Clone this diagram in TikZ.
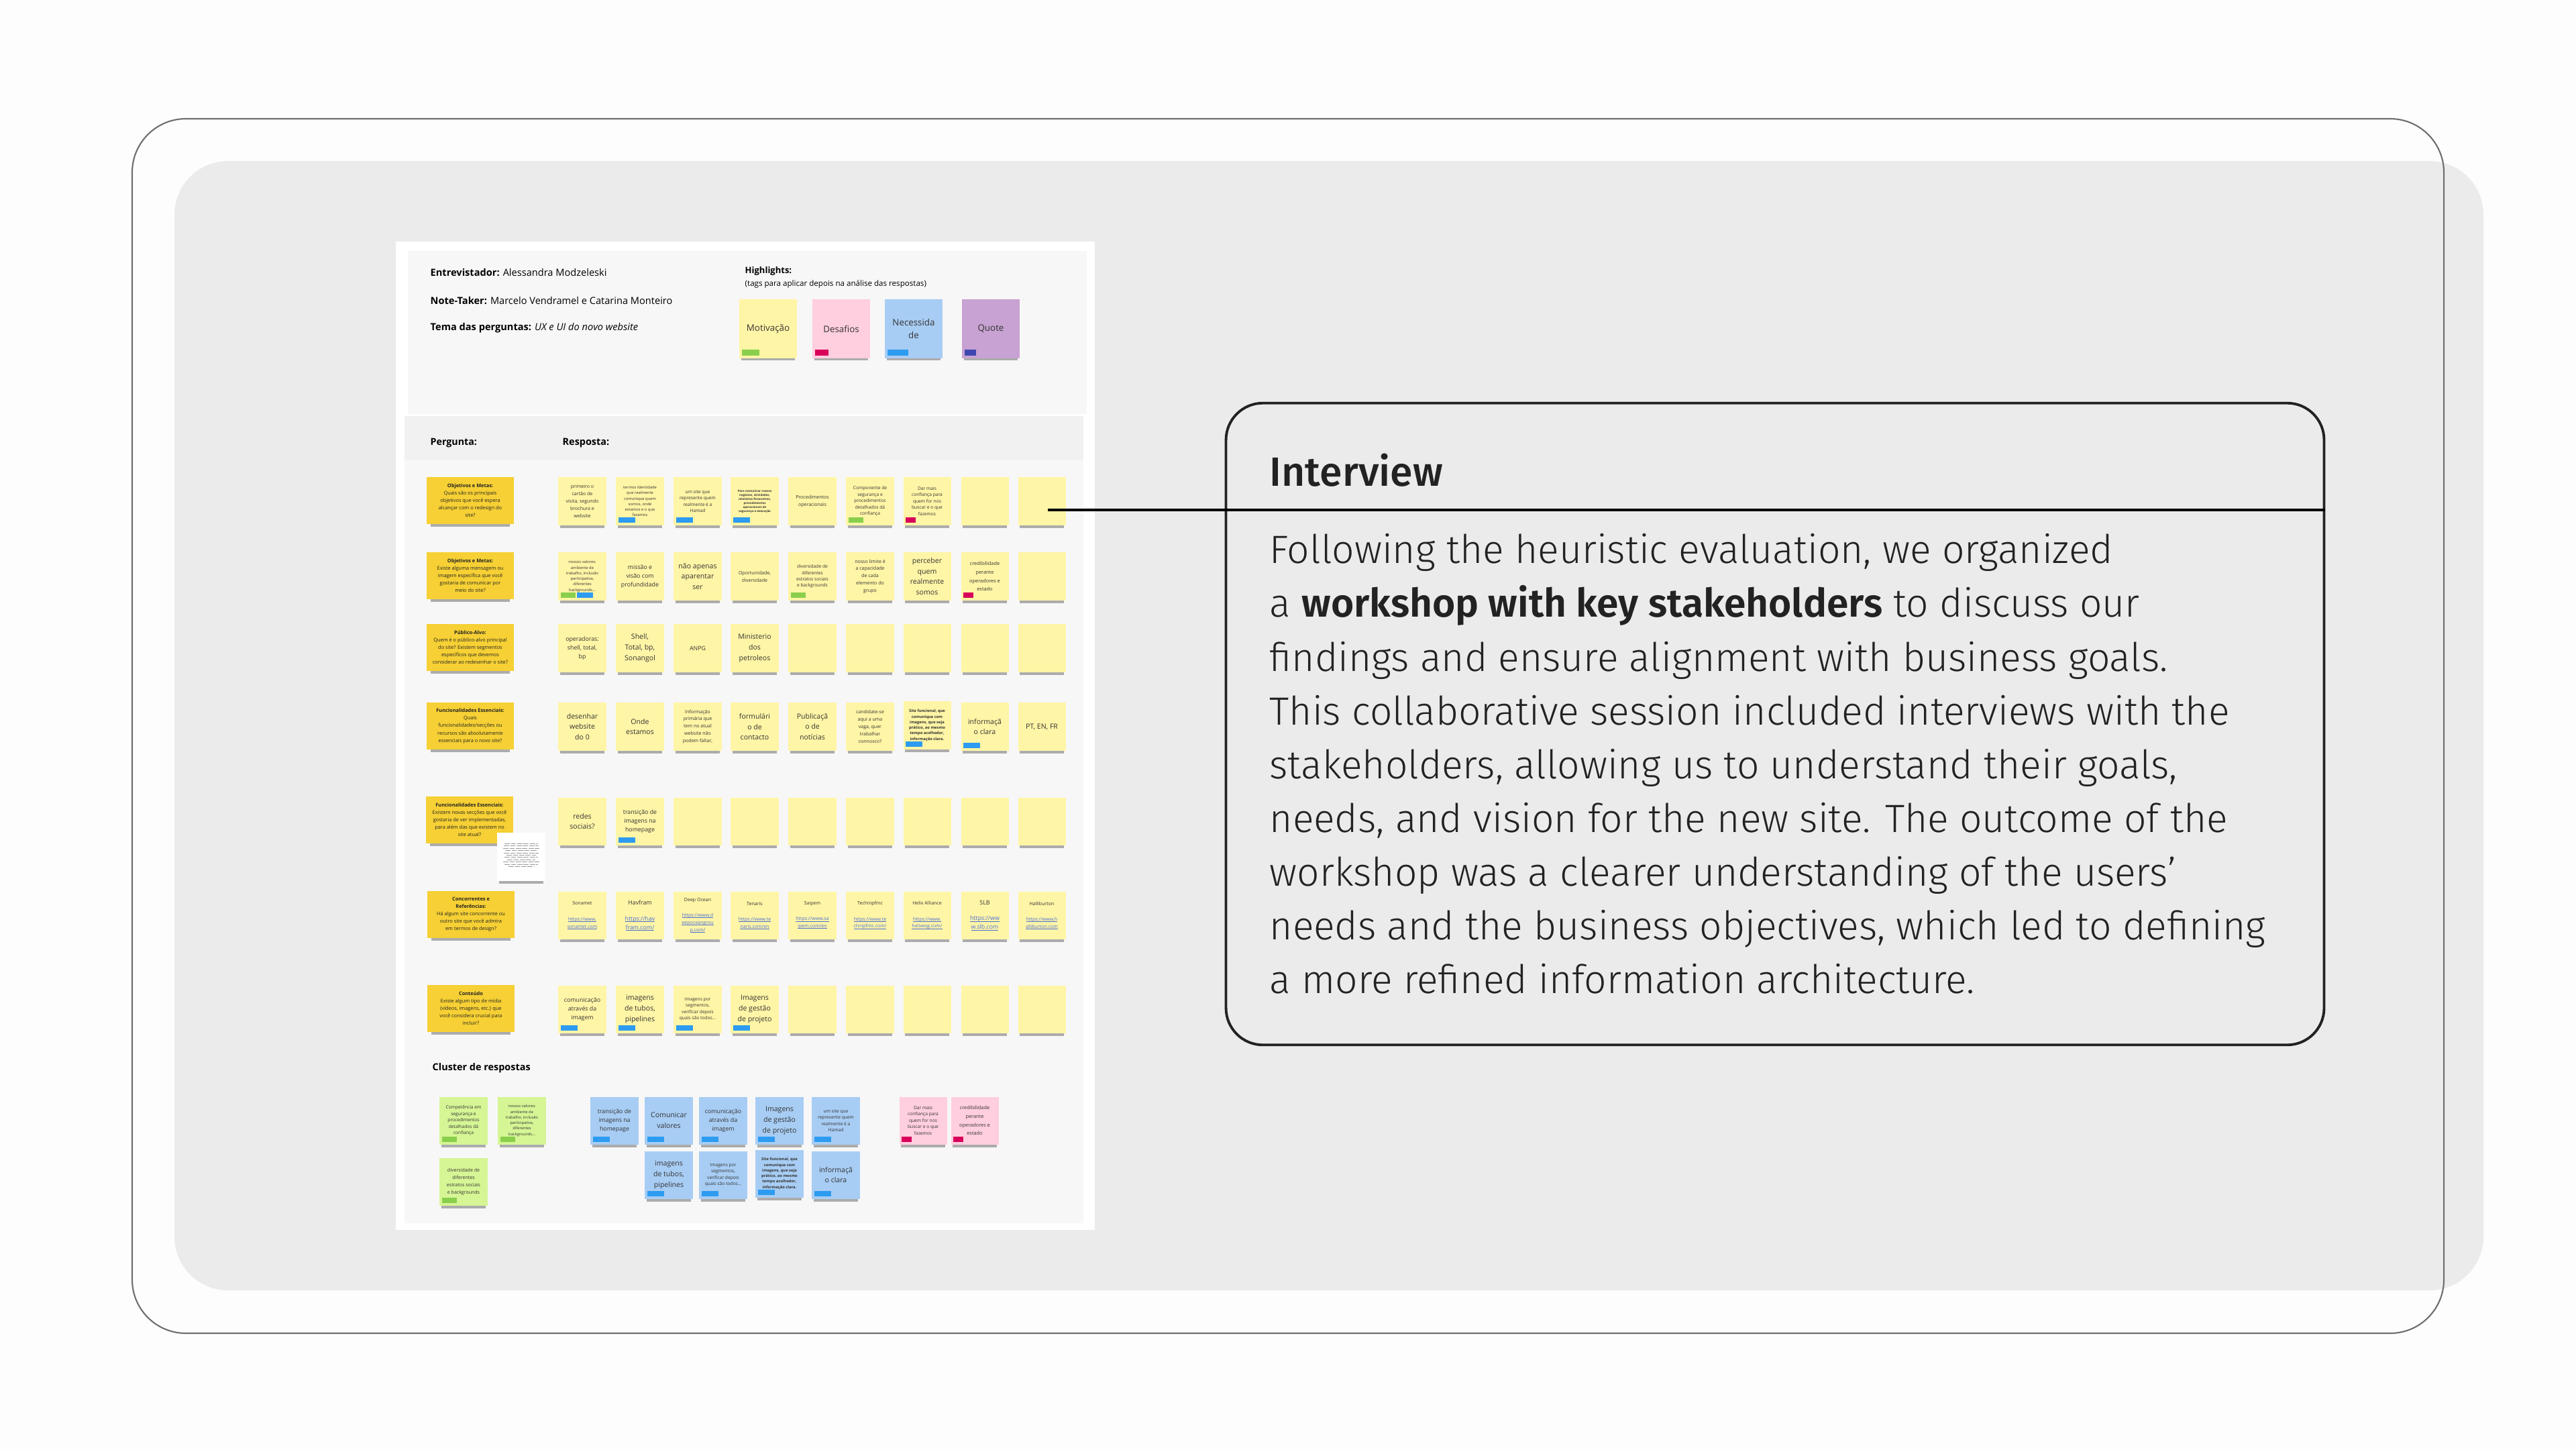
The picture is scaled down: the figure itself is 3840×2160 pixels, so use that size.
\documentclass[tikz,border=0pt]{standalone}
\usepackage{fontspec}
\setmainfont{Open Sans}
\IfFontExistsTF{Fira Sans Light}{%
  \IfFontExistsTF{Fira Sans SemiBold}{%
    \newfontfamily\calloutfont{Fira Sans Light}[BoldFont={Fira Sans SemiBold}]}{%
    \newfontfamily\calloutfont{Fira Sans Light}[BoldFont={Fira Sans}]}}{%
  \newfontfamily\calloutfont{Fira Sans}}
\IfFontExistsTF{Fira Sans Medium}{%
  \newfontfamily\titlefont{Fira Sans Medium}}{%
  \newfontfamily\titlefont{Fira Sans}}
\usetikzlibrary{calc,shadows}

\definecolor{pagebg}{HTML}{FDFDFD}
\definecolor{panelgray}{HTML}{EBEBEB}
\definecolor{framegray}{HTML}{6E6E6E}
\definecolor{boardbg}{HTML}{F7F7F7}
\definecolor{bandbg}{HTML}{F1F1F1}
\definecolor{qyellow}{HTML}{F6D034}
\definecolor{ayellow}{HTML}{FFF5A6}
\definecolor{cgreen}{HTML}{D6F595}
\definecolor{cblue}{HTML}{A8CDF4}
\definecolor{cpink}{HTML}{FFCEDF}
\definecolor{cpurple}{HTML}{C7A2D2}
\definecolor{taggreen}{HTML}{8ACF4C}
\definecolor{tagblue}{HTML}{2D9BF0}
\definecolor{tagpink}{HTML}{D8005A}
\definecolor{tagindigo}{HTML}{3E47B0}
\definecolor{linkblue}{HTML}{4A6FD8}
\definecolor{inkdark}{HTML}{222222}
\definecolor{stickytext}{HTML}{333333}

% sticky note font sizes
\newcommand\sza{\fontsize{1.25}{1.7}\selectfont\bfseries}
\newcommand\szb{\fontsize{1.65}{2.35}\selectfont}
\newcommand\szc{\fontsize{1.9}{2.7}\selectfont}
\newcommand\szd{\fontsize{2.0}{3.1}\selectfont}
\newcommand\sze{\fontsize{2.5}{3.7}\selectfont}
\newcommand\szf{\fontsize{3.0}{4.5}\selectfont}
\newcommand\szq{\fontsize{2.1}{3.15}\selectfont}
\newcommand\szh{\fontsize{3.8}{5.2}\selectfont}
\newcommand\szhead{\fontsize{4.15}{5}\selectfont}
\newcommand\lnk[1]{{\color{linkblue}\setbox0\hbox{#1}\rlap{\rule[-0.3pt]{\wd0}{0.12pt}}\box0}}

\tikzset{
  sticky/.style={inner sep=0pt, minimum width=0.71cm, minimum height=0.71cm, align=center, text=stickytext,
    drop shadow={shadow xshift=0pt, shadow yshift=-2.2pt, shadow scale=0.92, opacity=0.3, fill=black}},
  ans/.style={sticky, fill=ayellow, font=\szd},
  ques/.style={sticky, fill=qyellow, minimum width=1.29cm, minimum height=0.70cm, font=\szq, text=inkdark},
  grn/.style={sticky, fill=cgreen, font=\szc},
  blu/.style={sticky, fill=cblue, font=\szc},
  pnk/.style={sticky, fill=cpink, font=\szc},
  hl/.style={sticky, minimum width=0.86cm, minimum height=0.87cm, font=\szh},
  boardtxt/.style={anchor=west, inner sep=0pt, font=\szhead, text=black},
  callout/.style={draw=inkdark, line width=1.1pt, rounded corners=0.55cm, minimum width=16.36cm, minimum height=9.56cm, inner sep=0pt},
  connector/.style={draw=black, line width=1.15pt},
}

\begin{document}
\begin{tikzpicture}[x=0.01cm, y=-0.01cm]
\fill[pagebg] (0,0) rectangle (3840,2160);
\useasboundingbox (0,0) rectangle (3840,2160);

% frames
\fill[panelgray, rounded corners=0.8cm] (260,240) rectangle (3702,1923);
\draw[framegray, line width=0.6pt, rounded corners=0.8cm] (197,177) rectangle (3643,1987);

% board
\fill[white] (590,360) rectangle (1632,1833);
\fill[boardbg] (608,374) rectangle (1620,617);
\fill[boardbg] (603,620) rectangle (1615,1823);
\fill[bandbg] (603,620) rectangle (1615,685);

% header
\node[boardtxt] (interviewer) at (641,406) {\textbf{Entrevistador:} Alessandra Modzeleski};
\node[boardtxt] (notetaker) at (641,448) {\textbf{Note-Taker:} Marcelo Vendramel e Catarina Monteiro};
\node[boardtxt] (theme) at (641,489) {\textbf{Tema das perguntas:} \textit{UX e UI do novo website}};
\node[boardtxt, font=\fontsize{3.7}{4.5}\selectfont] (hltitle) at (1110,404) {\textbf{Highlights:}};
\node[boardtxt, font=\fontsize{3.3}{4}\selectfont] (hlnote) at (1110,423) {(tags para aplicar depois na análise das respostas)};

\node[hl, fill=ayellow] (hl1) at (1145,490) {Motivação};
\node[hl, fill=cpink] (hl2) at (1254,490) {Desafios};
\node[hl, fill=cblue] (hl3) at (1362,490) {Necessida\\de};
\node[hl, fill=cpurple] (hl4) at (1477,490) {Quote};
\fill[taggreen] ($(hl1.south west)+(5,-4)$) rectangle ++(26,-9);
\fill[tagpink] ($(hl2.south west)+(5,-4)$) rectangle ++(20,-9);
\fill[tagblue] ($(hl3.south west)+(5,-4)$) rectangle ++(31,-9);
\fill[tagindigo] ($(hl4.south west)+(5,-4)$) rectangle ++(17,-9);

\node[boardtxt, font=\fontsize{4.05}{5}\selectfont] (pergunta) at (641,660) {\textbf{Pergunta:}};
\node[boardtxt, font=\fontsize{4.1}{5}\selectfont] (resposta) at (838,660) {\textbf{Resposta:}};

% row 1
\node[ques] (q1) at (701,746) {\textbf{Objetivos e Metas:}\\Quais são os principais\\objetivos que você espera\\alcançar com o redesign do\\site?};
\node[ans] (r1a1) at (868,747) {primeiro o\\cartão de\\visita, segundo\\brochura e\\website};
\node[ans, font=\szb] (r1a2) at (954,747) {termos identidade\\que realmente\\comunique quem\\somos, onde\\estamos e o que\\fazemos};
\node[ans, font=\szc] (r1a3) at (1040,747) {um site que\\represente quem\\realmente é a\\Hamad};
\node[ans, font=\sza] (r1a4) at (1125,747) {Para comunicar nossos\\negócios, atividades,\\relatórios financeiros,\\procedimentos\\operacionais de\\segurança e execução};
\node[ans] (r1a5) at (1211,747) {Procedimentos\\operacionais};
\node[ans, font=\szc] (r1a6) at (1297,747) {Componente de\\segurança e\\procedimentos\\detalhados dá\\confiança};
\node[ans, font=\szc] (r1a7) at (1382,747) {Dar mais\\confiança para\\quem for nos\\buscar e o que\\fazemos};
\foreach \c/\k in {1468/8,1553/9} \node[ans] (r1a\k) at (\c,747) {};

% row 2
\node[ques] (q2) at (701,858) {\textbf{Objetivos e Metas:}\\Existe alguma mensagem ou\\imagem específica que você\\gostaria de comunicar por\\meio do site?};
\node[ans, font=\szb] (r2a1) at (868,859) {nossos valores:\\ambiente de\\trabalho, inclusão\\participativa,\\diferentes\\backgrounds...};
\node[ans, font=\sze] (r2a2) at (954,859) {missão e\\visão com\\profundidade};
\node[ans, font=\szf] (r2a3) at (1040,859) {não apenas\\aparentar\\ser};
\node[ans] (r2a4) at (1125,859) {Oportunidade,\\diversidade};
\node[ans, font=\szc] (r2a5) at (1211,859) {diversidade de\\diferentes\\estratos sociais\\e backgrounds};
\node[ans] (r2a6) at (1297,859) {nosso limite é\\a capacidade\\de cada\\elemento do\\grupo};
\node[ans, font=\szf] (r2a7) at (1382,859) {perceber\\quem\\realmente\\somos};
\node[ans, font=\fontsize{2.1}{3.6}\selectfont] (r2a8) at (1468,859) {credibilidade\\perante\\operadores e\\estado};
\node[ans] (r2a9) at (1553,859) {};

% row 3
\node[ques] (q3) at (701,965) {\textbf{Público-Alvo:}\\Quem é o público-alvo principal\\do site? Existem segmentos\\específicos que devemos\\considerar ao redesenhar o site?};
\node[ans, font=\sze] (r3a1) at (868,966) {operadoras:\\shell, total,\\bp};
\node[ans, font=\szf] (r3a2) at (954,966) {Shell,\\Total, bp,\\Sonangol};
\node[ans, font=\sze] (r3a3) at (1040,966) {ANPG};
\node[ans, font=\szf] (r3a4) at (1125,966) {Ministerio\\dos\\petroleos};
\foreach \c/\k in {1211/5,1297/6,1382/7,1468/8,1553/9} \node[ans] (r3a\k) at (\c,966) {};

% row 4
\node[ques] (q4) at (701,1082) {\textbf{Funcionalidades Essenciais:}\\Quais\\funcionalidades/secções ou\\recursos são absolutamente\\essenciais para o novo site?};
\node[ans, font=\szf] (r4a1) at (868,1083) {desenhar\\website\\do 0};
\node[ans, font=\szf] (r4a2) at (954,1083) {Onde\\estamos};
\node[ans] (r4a3) at (1040,1083) {Informação\\primária que\\tem no atual\\website não\\podem faltar,};
\node[ans, font=\szf] (r4a4) at (1125,1083) {formulári\\o de\\contacto};
\node[ans, font=\szf] (r4a5) at (1211,1083) {Publicaçã\\o de\\notícias};
\node[ans] (r4a6) at (1297,1083) {candidate-se\\aqui a uma\\vaga, quer\\trabalhar\\connosco?};
\node[ans, font=\szb\bfseries] (r4a7) at (1382,1081) {Site funcional, que\\comunique com\\imagens, que seja\\prático, ao mesmo\\tempo acolhedor,\\informação clara.};
\node[ans, font=\szf] (r4a8) at (1468,1083) {informaçã\\o clara};
\node[ans, font=\szf] (r4a9) at (1553,1083) {PT, EN, FR};

% row 5
\node[ques] (q5) at (700,1222) {\textbf{Funcionalidades Essenciais:}\\Existem novas secções que você\\gostaria de ver implementadas,\\para além das que existem no\\site atual?};
\node[ans, font=\szf] (r5a1) at (868,1224) {redes\\sociais?};
\node[ans, font=\sze] (r5a2) at (954,1224) {transição de\\imagens na\\homepage};
\foreach \c/\k in {1040/3,1125/4,1211/5,1297/6,1382/7,1468/8,1553/9} \node[ans] (r5a\k) at (\c,1224) {};
\node[sticky, fill=white, minimum height=0.72cm] (card) at (777,1277) {};
\foreach \i/\w in {0/50,1/52,2/54,3/48,4/52,5/44,6/50,7/42,8/54,9/50,10/38}
  \draw[black!40, line width=0.22pt, dash pattern=on 2.2pt off 0.5pt] ($(card.north)+({-\w/2},{17+3.4*\i})$) -- ++(\w,0);

% row 6
\node[ques] (q6) at (702,1363) {\textbf{Concorrentes e}\\\textbf{Referências:}\\Há algum site concorrente ou\\outro site que você admira\\em termos de design?};
\node[ans] (r6a1) at (868,1364) {Sonamet\\[3.5pt]\lnk{https://www.}\\\lnk{sonamet.com}};
\node[ans, font=\sze] (r6a2) at (954,1364) {Havfram\\[3pt]\lnk{https://hav}\\\lnk{fram.com/}};
\node[ans] (r6a3) at (1040,1364) {Deep Ocean\\[3.5pt]\lnk{https://www.d}\\\lnk{eepoceangrou}\\\lnk{p.com/}};
\node[ans] (r6a4) at (1125,1364) {Tenaris\\[3.5pt]\lnk{https://www.te}\\\lnk{naris.com/en}};
\node[ans] (r6a5) at (1211,1364) {Saipem\\[3.5pt]\lnk{https://www.sa}\\\lnk{ipem.com/en}};
\node[ans] (r6a6) at (1297,1364) {Technipfmc\\[3.5pt]\lnk{https://www.te}\\\lnk{chnipfmc.com/}};
\node[ans] (r6a7) at (1382,1364) {Helix Alliance\\[3.5pt]\lnk{https://www.}\\\lnk{helixesg.com/}};
\node[ans, font=\sze] (r6a8) at (1468,1364) {SLB\\[3pt]\lnk{https://ww}\\\lnk{w.slb.com}};
\node[ans] (r6a9) at (1553,1364) {Halliburton\\[3.5pt]\lnk{https://www.h}\\\lnk{alliburton.com}};

% row 7
\node[ques] (q7) at (702,1503) {\textbf{Conteúdo}\\Existe algum tipo de mídia\\(vídeos, imagens, etc.) que\\você considera crucial para\\incluir?};
\node[ans, font=\sze] (r7a1) at (868,1504) {comunicação\\através da\\imagem};
\node[ans, font=\szf] (r7a2) at (954,1504) {imagens\\de tubos,\\pipelines};
\node[ans, font=\szc] (r7a3) at (1040,1504) {Imagens por\\segmentos,\\verificar depois\\quais são todos...};
\node[ans, font=\szf] (r7a4) at (1125,1504) {Imagens\\de gestão\\de projeto};
\foreach \c/\k in {1211/5,1297/6,1382/7,1468/8,1553/9} \node[ans] (r7a\k) at (\c,1504) {};

% cluster
\node[boardtxt, font=\fontsize{4.1}{4.8}\selectfont] (cluster) at (644,1592) {\textbf{Cluster de respostas}};
\node[grn] (g1) at (691,1670) {Competência em\\segurança e\\procedimentos\\detalhados dá\\confiança};
\node[grn, font=\szb] (g2) at (778,1670) {nossos valores:\\ambiente de\\trabalho, inclusão\\participativa,\\diferentes\\backgrounds...};
\node[grn, font=\szd] (g3) at (691,1761) {diversidade de\\diferentes\\estratos sociais\\e backgrounds};
\node[blu, font=\sze] (b1) at (916,1670) {transição de\\imagens na\\homepage};
\node[blu, font=\szf] (b2) at (997,1670) {Comunicar\\valores};
\node[blu, font=\sze] (b3) at (1078,1670) {comunicação\\através da\\imagem};
\node[blu, font=\szf] (b4) at (1162,1670) {Imagens\\de gestão\\de projeto};
\node[blu] (b5) at (1246,1670) {um site que\\represente quem\\realmente é a\\Hamad};
\node[blu, font=\szf] (b6) at (997,1751) {imagens\\de tubos,\\pipelines};
\node[blu] (b7) at (1078,1751) {Imagens por\\segmentos,\\verificar depois\\quais são todos...};
\node[blu, font=\szb\bfseries] (b8) at (1162,1749) {Site funcional, que\\comunique com\\imagens, que seja\\prático, ao mesmo\\tempo acolhedor,\\informação clara.};
\node[blu, font=\szf] (b9) at (1246,1751) {informaçã\\o clara};
\node[pnk] (p1) at (1376,1670) {Dar mais\\confiança para\\quem for nos\\buscar e o que\\fazemos};
\node[pnk, font=\fontsize{2.1}{3.6}\selectfont] (p2) at (1453,1670) {credibilidade\\perante\\operadores e\\estado};

% tags
\foreach \n in {r1a2,r1a3,r1a4,r4a7,r4a8,r5a2,r7a1,r7a2,r7a3,r7a4,b1,b2,b3,b4,b5,b6,b7,b8,b9}
  \fill[tagblue] ($(\n.south west)+(4,-4)$) rectangle ++(25,-8);
\foreach \n in {r1a6,r2a1,r2a5,g1,g2,g3}
  \fill[taggreen] ($(\n.south west)+(4,-4)$) rectangle ++(22,-8);
\foreach \n in {r1a7,r2a8,p1,p2}
  \fill[tagpink] ($(\n.south west)+(4,-4)$) rectangle ++(15,-8);
\fill[tagblue] ($(r2a1.south west)+(28,-4)$) rectangle ++(24,-8);

% callout
\node[callout] (callout) at (2646,1079) {};
\node[anchor=base west, inner sep=0pt, font=\titlefont\fontsize{17.3}{20}\selectfont, text=inkdark] (title) at (1892,724) {Interview};
\node[anchor=north west, inner sep=0pt, align=left, font=\calloutfont\fontsize{16.7}{22.76}\selectfont, text=inkdark] (body) at (1892,795)
  {Following the heuristic evaluation, we organized\\
   a \textbf{workshop with key stakeholders} to discuss our\\
   findings and ensure alignment with business goals.\\
   This collaborative session included interviews with the\\
   stakeholders, allowing us to understand their goals,\\
   needs, and vision for the new site. The outcome of the\\
   workshop was a clearer understanding of the users’\\
   needs and the business objectives, which led to defining\\
   a more refined information architecture.};
\coordinate (pin) at (1562,760);
\draw[connector] (pin) -- (pin -| callout.east);
\end{tikzpicture}
\end{document}
